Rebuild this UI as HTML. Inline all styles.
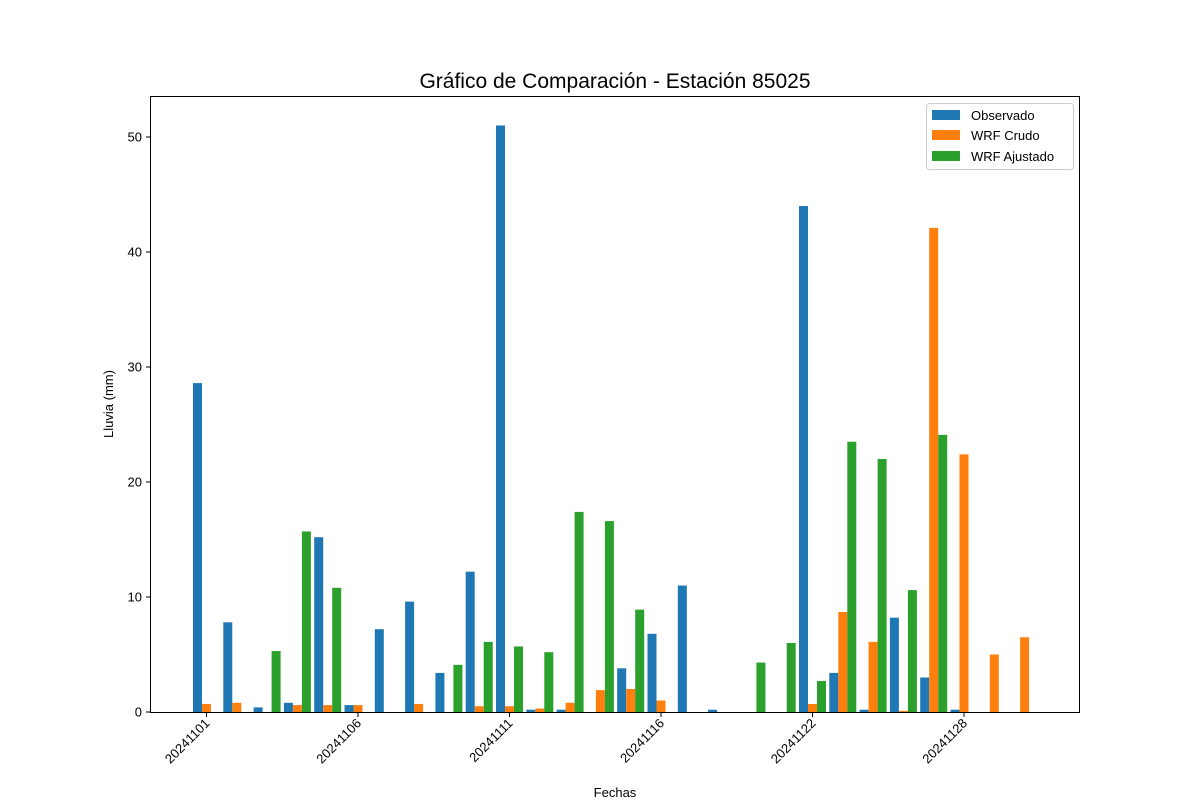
<!DOCTYPE html>
<html><head><meta charset="utf-8"><style>body{margin:0;background:#fff}svg{font-family:"Liberation Sans","DejaVu Sans",sans-serif}</style></head>
<body>
<svg id="chart" width="1200" height="800" xmlns="http://www.w3.org/2000/svg">
<rect width="1200" height="800" fill="#fff"/>
<text x="615" y="88" font-size="21" text-anchor="middle">Gráfico de Comparación - Estación 85025</text>
<g id="bars"></g>
<rect x="150.5" y="96.5" width="929" height="616" fill="none" stroke="#000" stroke-width="1"/>
<g id="yaxis"></g>
<g id="xaxis"></g>
<text x="113" y="404" font-size="13" text-anchor="middle" transform="rotate(-90 113 404)">Lluvia (mm)</text>
<text x="615" y="797" font-size="13" text-anchor="middle">Fechas</text>
<g>
<rect x="926.5" y="103.5" width="147" height="66" rx="3" fill="#fff" stroke="#ccc"/>
<g><rect x="932" y="110" width="28" height="10" fill="#1f77b4"/><text x="971" y="120" font-size="13">Observado</text></g>
<g><rect x="932" y="130" width="28" height="10" fill="#ff7f0e"/><text x="971" y="140" font-size="13">WRF Crudo</text></g>
<g><rect x="932" y="151" width="28" height="10" fill="#2ca02c"/><text x="971" y="161" font-size="13">WRF Ajustado</text></g>
</g>
</svg>
<script>
const categories=["20241101","20241102","20241103","20241104","20241105","20241106","20241107","20241108","20241109","20241110","20241111","20241112","20241113","20241114","20241115","20241116","20241118","20241119","20241120","20241121","20241122","20241123","20241124","20241125","20241126","20241128","20241129","20241130"];
const observado=[28.6,7.8,0.4,0.8,15.2,0.6,7.2,9.6,3.4,12.2,51,0.2,0.2,0,3.8,6.8,11.0,0.2,0,0,44,3.4,0.2,8.2,3.0,0.2,0,0];
const wrfCrudo=[0.7,0.8,0,0.6,0.6,0.6,0,0.7,0,0.5,0.5,0.3,0.8,1.9,2.0,1.0,0,0,0,0,0.7,8.7,6.1,0.1,42.1,22.4,5.0,6.5];
const wrfAjustado=[0,0,5.3,15.7,10.8,0,0,0,4.1,6.1,5.7,5.2,17.4,16.6,8.9,0,0,0,4.3,6.0,2.7,23.5,22,10.6,24.1,0,0,0];
const yTicks=[0,10,20,30,40,50];
const xTickIdx=[0,5,10,15,20,25];
const NS="http://www.w3.org/2000/svg";
const x=i=>206.5+i*30.3;
const y=v=>712-v*11.5;
const bw=9;
const bars=document.getElementById('bars');
function bar(series,off,color,name){
series.forEach((v,i)=>{if(v<=0)return;
const r=document.createElementNS(NS,'rect');
r.setAttribute('x',x(i)+off-bw/2);r.setAttribute('y',y(v));r.setAttribute('width',bw);r.setAttribute('height',712-y(v));r.setAttribute('fill',color);


bars.appendChild(r);});}
bar(observado,-9,'#1f77b4','observado');
bar(wrfCrudo,0,'#ff7f0e','wrf-crudo');
bar(wrfAjustado,9,'#2ca02c','wrf-ajustado');
const ya=document.getElementById('yaxis');
yTicks.forEach(t=>{
const l=document.createElementNS(NS,'line');l.setAttribute('x1',146);l.setAttribute('x2',150);l.setAttribute('y1',y(t));l.setAttribute('y2',y(t));l.setAttribute('stroke','#000');


ya.appendChild(l);
const tx=document.createElementNS(NS,'text');tx.setAttribute('x',142);tx.setAttribute('y',y(t)+4.5);tx.setAttribute('text-anchor','end');tx.setAttribute('font-size','13');tx.textContent=t;


ya.appendChild(tx);});
const xa=document.getElementById('xaxis');
xTickIdx.forEach(i=>{
const l=document.createElementNS(NS,'line');l.setAttribute('x1',x(i));l.setAttribute('x2',x(i));l.setAttribute('y1',713);l.setAttribute('y2',717);l.setAttribute('stroke','#000');


xa.appendChild(l);
const tx=document.createElementNS(NS,'text');const px=x(i)+4,py=724;
tx.setAttribute('x',px);tx.setAttribute('y',py);tx.setAttribute('text-anchor','end');tx.setAttribute('font-size','13');tx.setAttribute('transform','rotate(-45 '+px+' '+py+')');tx.textContent=categories[i];


xa.appendChild(tx);});
</script>
</body></html>
